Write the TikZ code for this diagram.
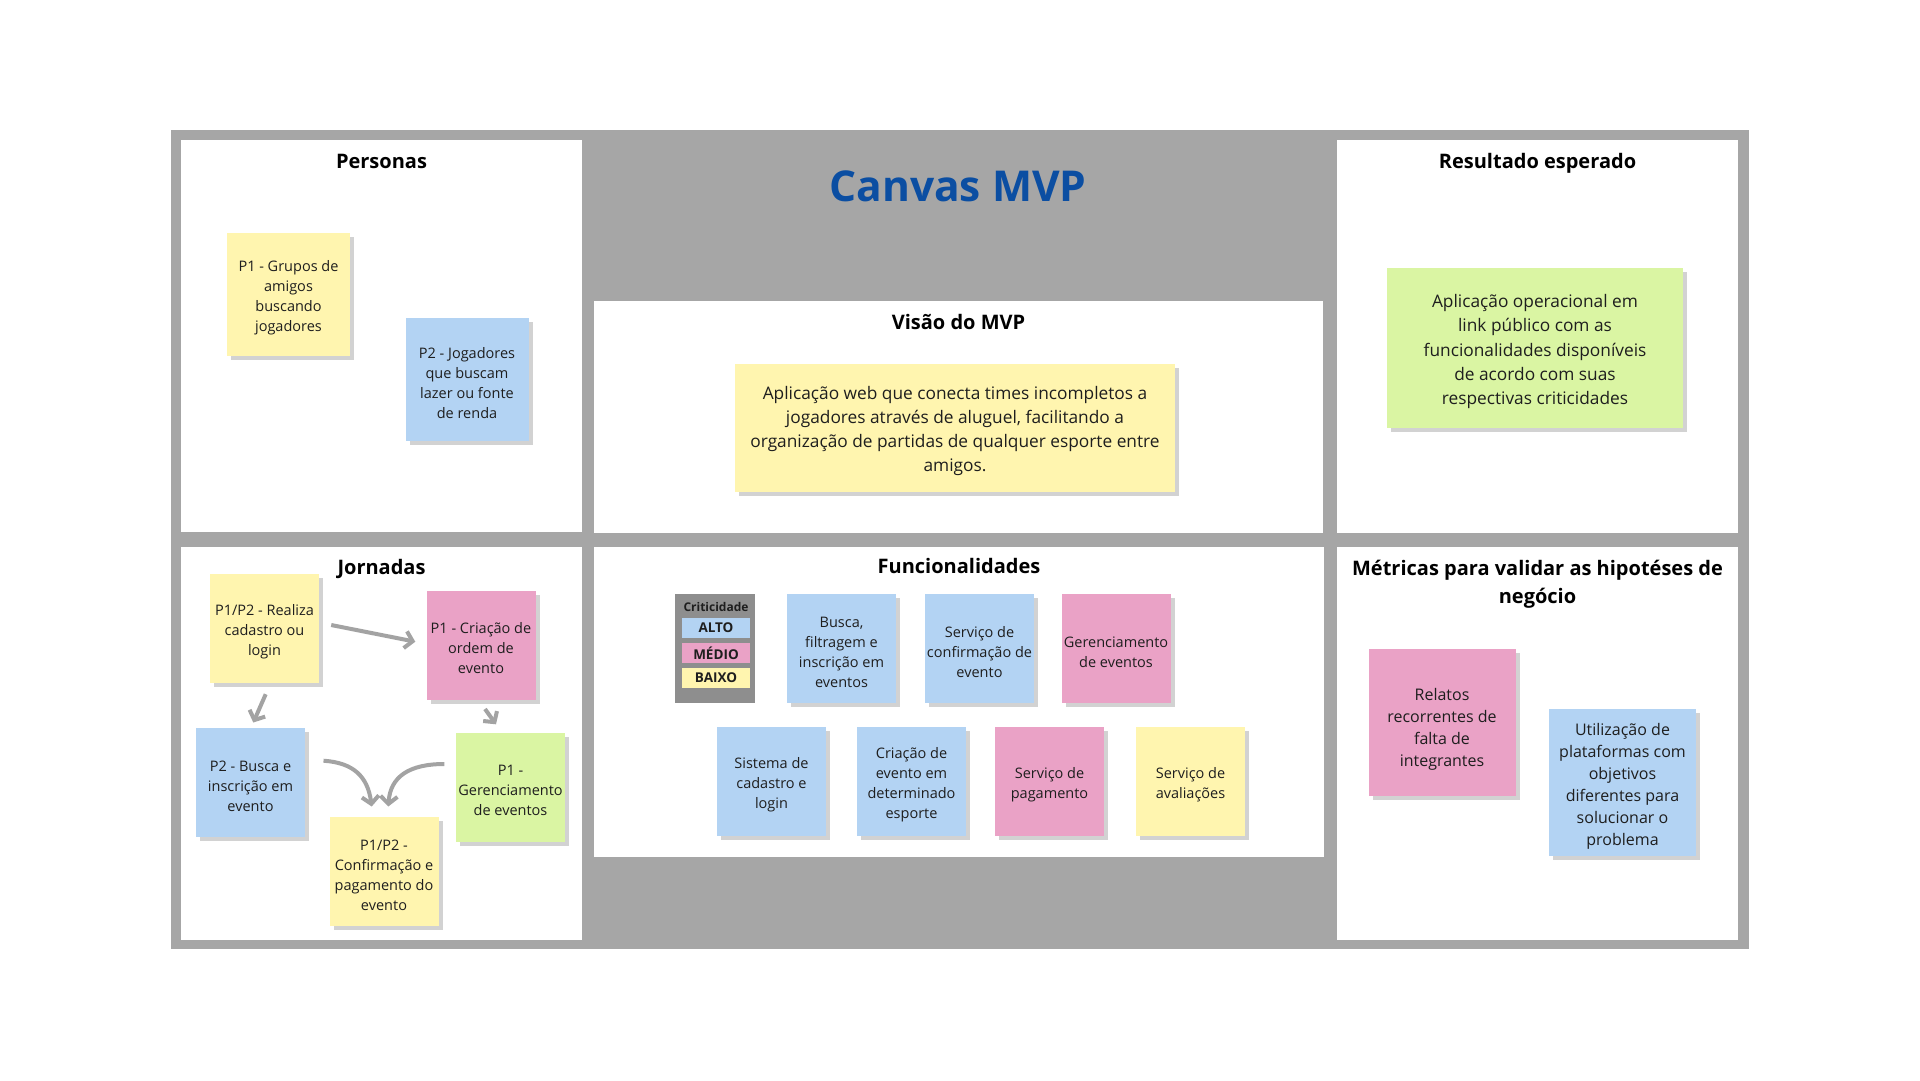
\documentclass[tikz,border=0pt]{standalone}
\usepackage{fontspec}
\setmainfont{Open Sans}
\usetikzlibrary{arrows.meta,calc,shadows}

\definecolor{framegray}{HTML}{A6A6A6}
\definecolor{notey}{HTML}{FFF5AF}
\definecolor{noteb}{HTML}{B3D3F3}
\definecolor{notep}{HTML}{EAA2C6}
\definecolor{noteg}{HTML}{DAF5A3}
\definecolor{shade}{HTML}{D2D2D2}
\definecolor{titleblue}{HTML}{0B4EA2}
\definecolor{legendgray}{HTML}{8E8E8E}
\definecolor{arrowgray}{HTML}{A3A3A3}
\definecolor{ink}{HTML}{1E1E1E}

\newcommand{\fsz}[2]{\fontsize{#1}{#2}\selectfont}
% sticky note: name, position, box style, fill, text style, text
\newcommand{\stickynote}[6]{%
  \node[#3, fill=#4] (#1) at #2 {};
  \node[#5] (#1-text) at (#1) {#6};}

\begin{document}
\begin{tikzpicture}[x=1pt,y=-1pt,
  heading/.style={font=\fsz{20}{28}\bfseries, align=center, text=black},
  sticky/.style={inner sep=0pt,
    general shadow={fill=shade, shadow xshift=4pt, shadow yshift=-4pt}},
  txt/.style={inner sep=0pt, align=center, text=ink, yshift=-3.5pt},
  smallbox/.style={sticky, minimum width=109pt, minimum height=109pt},
  personabox/.style={sticky, minimum width=123pt, minimum height=123pt},
  metricbox/.style={sticky, minimum width=147pt, minimum height=147pt},
  smalltxt/.style={txt, font=\fsz{14.5}{20}},
  metrictxt/.style={txt, font=\fsz{16}{22}},
  band/.style={inner sep=0pt, minimum width=68pt, minimum height=20pt, font=\fsz{13.5}{16}\bfseries, text=ink},
  flow/.style={draw=arrowgray, line width=4pt, -{Straight Barb[length=7.5pt,width=17pt]}}
]
% page and frame
\fill[white] (0,0) rectangle (1920,1080);
\fill[framegray] (171,130) rectangle (1749,949);

% panels
\fill[white] (181,140) rectangle (582,532);
\fill[white] (594,301) rectangle (1323,533);
\fill[white] (1337,140) rectangle (1738,533);
\fill[white] (181,547) rectangle (582,940);
\fill[white] (594,547) rectangle (1324,857);
\fill[white] (1337,547) rectangle (1738,940);

% title
\node[anchor=base, font=\fsz{42.5}{48}\bfseries, text=titleblue] (title) at (958,201.7) {Canvas MVP};

% headings
\node[heading, anchor=base] (hpers) at (381.5,168.5) {Personas};
\node[heading, anchor=base] (hres) at (1537.5,168.5) {Resultado esperado};
\node[heading, anchor=base] (hvis) at (958.5,329) {Visão do MVP};
\node[heading, anchor=base] (hjor) at (381.5,574) {Jornadas};
\node[heading, anchor=base] (hfun) at (959,573) {Funcionalidades};
\node[heading] (hmet) at (1537.5,584.5) {Métricas para validar as hipotéses de\\negócio};

% personas
\stickynote{p1}{(288.5,294.5)}{personabox}{notey}{smalltxt}{P1 - Grupos de\\amigos\\buscando\\jogadores}
\stickynote{p2}{(467,379.5)}{personabox}{noteb}{smalltxt}{P2 - Jogadores\\que buscam\\lazer ou fonte\\de renda}

% vision
\stickynote{vis}{(955,428)}{sticky, minimum width=440pt, minimum height=128pt}{notey}{txt, yshift=1pt, font=\fsz{17.3}{24}}
  {Aplicação web que conecta times incompletos a\\jogadores através de aluguel, facilitando a\\organização de partidas de qualquer esporte entre\\amigos.}

% expected result
\stickynote{res}{(1535,348)}{sticky, minimum width=296pt, minimum height=160pt}{noteg}{txt, font=\fsz{17.3}{24.2}}
  {Aplicação operacional em\\link público com as\\funcionalidades disponíveis\\de acordo com suas\\respectivas criticidades}

% journeys
\stickynote{j1}{(264.5,628.5)}{smallbox}{notey}{smalltxt}{P1/P2 - Realiza\\cadastro ou\\login}
\stickynote{j2}{(481,645)}{smallbox}{notep}{smalltxt}{P1 - Criação de\\ordem de\\evento}
\stickynote{j3}{(250.5,782.5)}{smallbox}{noteb}{smalltxt}{P2 - Busca e\\inscrição em\\evento}
\stickynote{j4}{(510.5,787)}{smallbox}{noteg}{smalltxt}{P1 -\\Gerenciamento\\de eventos}
\stickynote{j5}{(384,871.5)}{smallbox}{notey}{smalltxt}{P1/P2 -\\Confirmação e\\pagamento do\\evento}

\draw[flow] ($(j1.east)+(12,-3.5)$) -- ($(j2.west)+(-11,-3.3)$);
\draw[flow] ($(j1.south)+(1.2,11)$) -- ($(j3.north)+(2.8,-5.3)$);
\draw[flow] ($(j2.south)+(4,9.3)$) -- ($(j4.north)+(-14.5,-8)$);
\draw[flow] ($(j3.east)+(18.3,-21.8)$) .. controls +(30,2) and +(-4,-30) .. ($(j5.north)+(-12.3,-10.3)$);
\draw[flow] ($(j4.west)+(-11.5,-23)$) .. controls +(-35,0) and +(2,-30) .. ($(j5.north)+(4.3,-10.3)$);

% features legend
\node[fill=legendgray, minimum width=80.5pt, minimum height=109pt, inner sep=0pt] (leg) at (715,648.5) {};
\node[font=\fsz{12}{14}\bfseries, text=ink, inner sep=0pt] (legt) at (716,607) {Criticidade};
\node[band, fill=noteb] (alto) at (716,628) {ALTO};
\node[band, fill=notep] (medio) at (716,653) {MÉDIO};
\node[band, fill=notey] (baixo) at (716,678) {BAIXO};

% features
\stickynote{f1}{(841.5,648.5)}{smallbox}{noteb}{smalltxt}{Busca,\\filtragem e\\inscrição em\\eventos}
\stickynote{f2}{(979.5,648.5)}{smallbox}{noteb}{smalltxt}{Serviço de\\confirmação de\\evento}
\stickynote{f3}{(1116,648.5)}{smallbox}{notep}{smalltxt}{Gerenciamento\\de eventos}
\stickynote{f4}{(771.5,781.5)}{smallbox}{noteb}{smalltxt}{Sistema de\\cadastro e\\login}
\stickynote{f5}{(911.5,781)}{smallbox}{noteb}{smalltxt}{Criação de\\evento em\\determinado\\esporte}
\stickynote{f6}{(1049.5,781)}{smallbox}{notep}{smalltxt}{Serviço de\\pagamento}
\stickynote{f7}{(1190.5,781)}{smallbox}{notey}{smalltxt}{Serviço de\\avaliações}

% metrics
\stickynote{m1}{(1442,722.5)}{metricbox}{notep}{metrictxt, yshift=-3pt}{Relatos\\recorrentes de\\falta de\\integrantes}
\stickynote{m2}{(1622.5,782.5)}{metricbox}{noteb}{metrictxt}{Utilização de\\plataformas com\\objetivos\\diferentes para\\solucionar o\\problema}
\end{tikzpicture}
\end{document}
